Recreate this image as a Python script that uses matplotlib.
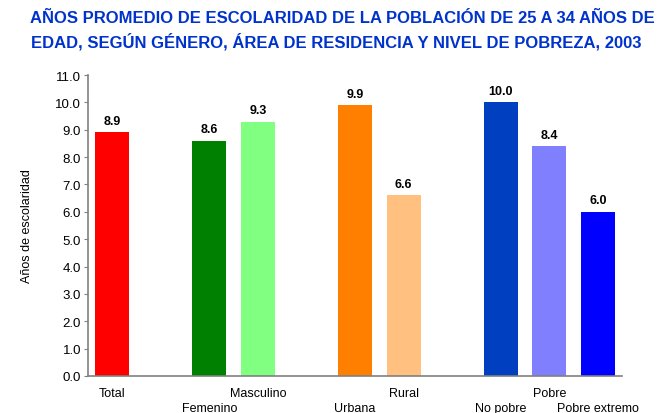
import matplotlib
matplotlib.use("Agg")
import matplotlib.pyplot as plt

plt.rcParams['font.family'] = ['Liberation Sans', 'DejaVu Sans']

# data
categories = ["Total", "Femenino", "Masculino", "Urbana", "Rural", "No pobre", "Pobre", "Pobre extremo"]
values = [8.9, 8.6, 9.3, 9.9, 6.6, 10.0, 8.4, 6.0]
positions = [0, 2, 3, 5, 6, 8, 9, 10]
colors = ["#FF0000", "#008000", "#80FF80", "#FF8000", "#FFC080", "#0040C0", "#8080FF", "#0000FF"]
yticks = [0.0, 1.0, 2.0, 3.0, 4.0, 5.0, 6.0, 7.0, 8.0, 9.0, 10.0, 11.0]

title_color = "#0033CC"
axis_color = "#808080"

fig = plt.figure(figsize=(6.63, 4.14), dpi=100)
ax = fig.add_axes([0.1327, 0.0894, 0.8055, 0.727])

ax.bar(positions, values, width=0.7, color=colors)

for x, v in zip(positions, values):
    ax.text(x, v + 0.2, f"{v:.1f}", ha='center', va='bottom',
            fontsize=9, fontweight='bold', color='black')

ax.set_xlim(-0.5, 10.5)
ax.set_ylim(0, 11)
ax.set_yticks(yticks)
ax.set_yticklabels([f"{t:.1f}" for t in yticks], fontsize=9.5)

# staggered category labels
ax.set_xticks(positions)
ax.set_xticklabels([])
for i, (x, c) in enumerate(zip(positions, categories)):
    yoff = -0.035 if i % 2 == 0 else -0.088
    ax.text(x, yoff, c, transform=ax.get_xaxis_transform(), ha='center', va='top', fontsize=9)

ax.tick_params(axis='x', length=0)
ax.tick_params(axis='y', length=3, color=axis_color, pad=2)
for s in ['top', 'right']:
    ax.spines[s].set_visible(False)
for s in ['left', 'bottom']:
    ax.spines[s].set_color(axis_color)
    ax.spines[s].set_linewidth(1.2)

ax.set_ylabel("Años de escolaridad", fontsize=9, labelpad=16)

fig.text(0.516, 0.955, "AÑOS PROMEDIO DE ESCOLARIDAD DE LA POBLACIÓN DE 25 A 34 AÑOS DE",
         ha='center', va='center', fontsize=12, fontweight='bold', color=title_color)
fig.text(0.507, 0.900, "EDAD, SEGÚN GÉNERO, ÁREA DE RESIDENCIA Y NIVEL DE POBREZA, 2003",
         ha='center', va='center', fontsize=12, fontweight='bold', color=title_color)

fig.savefig("out.png", dpi=100)
